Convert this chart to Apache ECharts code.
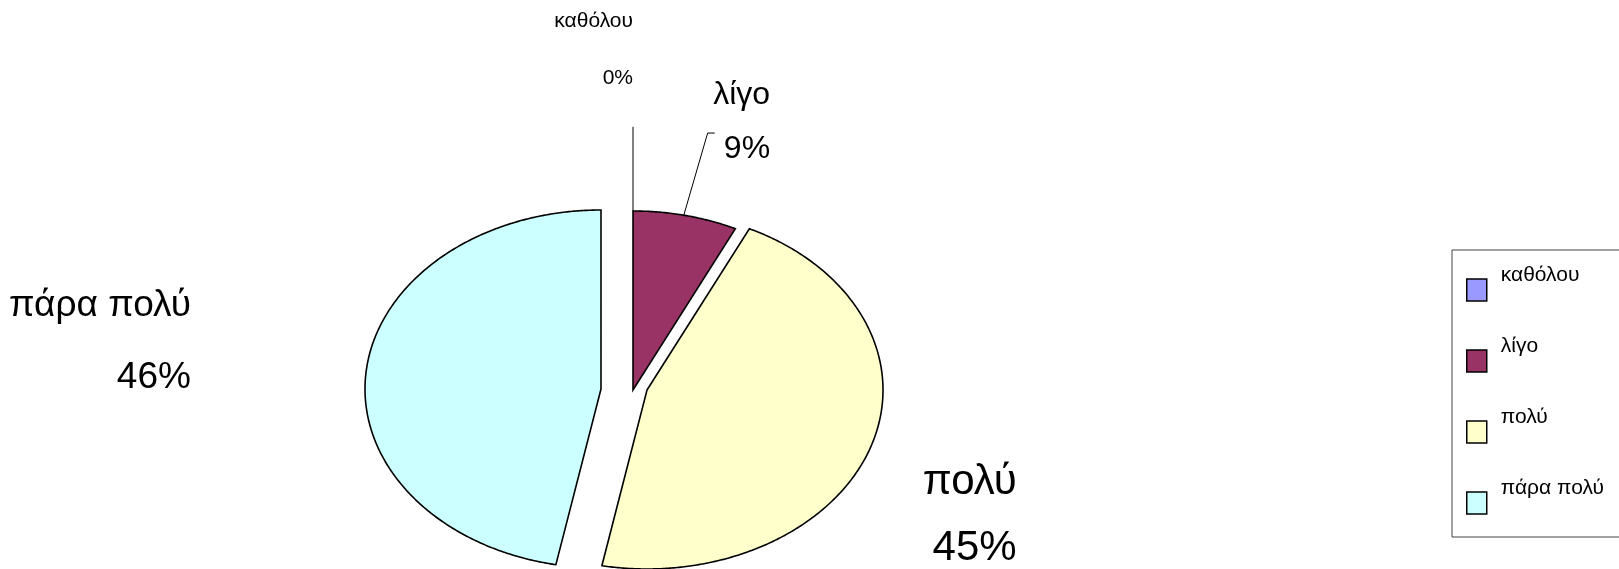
<!DOCTYPE html>
<html lang="el">
  <head>
    <meta charset="UTF-8" />
    <title>Pie</title>
    <script src="https://cdn.jsdelivr.net/npm/echarts@6/dist/echarts.min.js"></script>
    <style>
      html, body { margin: 0; padding: 0; background: #fff; }
      #main { width: 1619px; height: 569px; }
    </style>
  </head>
  <body>
    <div id="main"></div>
    <script>
      // data
      var categories = ['καθόλου', 'λίγο', 'πολύ', 'πάρα πολύ'];
      var values = [0, 9, 45, 46];
      var colors = ['#9999FF', '#993366', '#FFFFCC', '#CCFFFF'];

      // layout for each slice (pixels / factors), same order as categories
      var explode = [[19, 1], [19, 1], [33, 1], [-13, 0]];
      var labelDist = [[1.9, 1.9], [1.65, 1.56], [1.49, 1.76], [2.14, 2.1]];
      var labelAlign = ['right', 'center', 'center', 'center'];
      var labelSize = [21, 32, 42, 37];
      var labelLine = [57, 54, 66, 72];
      var leader = [true, true, false, false];
      var FONT = "'Liberation Sans', Arial, sans-serif";

      var total = values.reduce(function (a, b) { return a + b; }, 0);

      function renderItem(params, api) {
        var i = api.value(0);
        var before = 0;
        for (var k = 0; k < i; k++) before += values[k];
        var a0 = before / total * Math.PI * 2;
        var a1 = (before + api.value(1)) / total * Math.PI * 2;
        var c0 = api.coord([0, 0]);
        var rx = api.size([1, 0])[0];
        var ry = api.size([0, 1])[1];
        var c = [c0[0] + explode[i][0], c0[1] + explode[i][1]];

        // point on the ellipse at a screen angle, clockwise from 12 o'clock
        function edge(a, f) {
          var s = Math.sin(a), co = Math.cos(a);
          var r = 1 / Math.sqrt(Math.pow(s / rx, 2) + Math.pow(co / ry, 2));
          return [c[0] + s * r * f, c[1] - co * r * f];
        }

        var children = [];
        if (a1 > a0) {
          var pts = [c];
          var n = Math.max(2, Math.ceil((a1 - a0) / 0.01));
          for (var j = 0; j <= n; j++) pts.push(edge(a0 + (a1 - a0) * j / n, 1));
          children.push({
            type: 'polygon',
            shape: { points: pts },
            style: { fill: colors[i], stroke: '#000', lineWidth: 1.6 }
          });
        }

        var am = (a0 + a1) / 2;
        if (leader[i]) {
          var p1 = edge(am, 1);
          var p2 = edge(am, 1.47);
          var line = [p1, p2];
          if (Math.sin(am) > 0.05) line.push([p2[0] + 7, p2[1]]);
          children.push({
            type: 'polyline',
            shape: { points: line },
            style: { stroke: '#000', lineWidth: 1, fill: null }
          });
        }

        var f = labelDist[i];
        var pct = Math.round(api.value(1) / total * 100) + '%';
        var tok = { fontSize: labelSize[i], fontFamily: FONT, fill: '#000', align: 'right', lineHeight: labelLine[i] };
        children.push({
          type: 'text',
          x: c[0] + Math.sin(am) * rx * f[0],
          y: c[1] - Math.cos(am) * ry * f[1],
          style: {
            text: '{n|' + categories[i] + '}\n{p|' + pct + '}',
            align: labelAlign[i],
            verticalAlign: 'middle',
            rich: { n: tok, p: tok }
          }
        });
        return { type: 'group', children: children };
      }

      var chart = echarts.init(document.getElementById('main'));
      var option = {
        backgroundColor: '#fff',
        animation: false,
        grid: { left: 378, top: 210, width: 472, height: 358 },
        xAxis: { type: 'value', min: -1, max: 1, show: false },
        yAxis: { type: 'value', min: -1, max: 1, show: false },
        legend: {
          orient: 'vertical',
          left: 1452,
          top: 250,
          padding: [10, 200, 4, 14],
          itemWidth: 20,
          itemHeight: 22,
          itemGap: 11,
          icon: 'rect',
          borderColor: '#444',
          borderWidth: 1,
          itemStyle: { borderColor: '#000', borderWidth: 1.5 },
          formatter: function (name) { return name + '\n '; },
          textStyle: { fontSize: 21, lineHeight: 30, fontFamily: FONT, color: '#000', padding: [0, 0, 0, 9] },
          data: categories
        },
        series: categories.map(function (name, i) {
          return {
            type: 'custom',
            name: name,
            renderItem: renderItem,
            itemStyle: { color: colors[i] },
            data: [[i, values[i]]],
            clip: false
          };
        })
      };
      chart.setOption(option);
    </script>
  </body>
</html>
